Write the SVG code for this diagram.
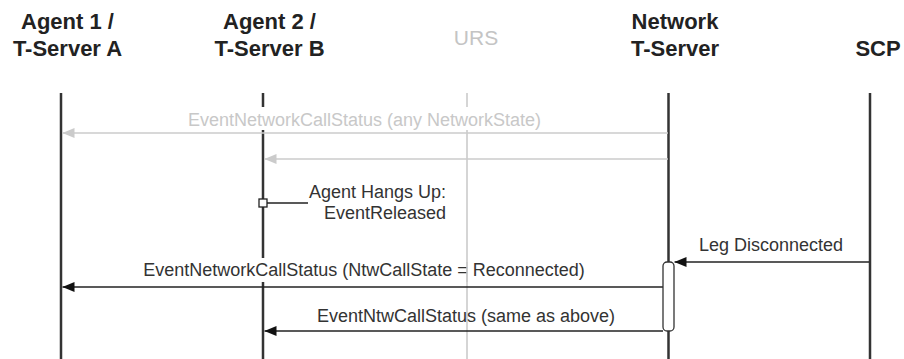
<svg xmlns="http://www.w3.org/2000/svg" width="904" height="359" viewBox="0 0 904 359">
<style>
.hdr{font-family:"Liberation Sans",Arial,sans-serif;font-size:22px;font-weight:bold;fill:#222;text-anchor:middle}
.hdrg{font-family:"Liberation Sans",Arial,sans-serif;font-size:21px;fill:#c4c4c4;text-anchor:middle}
.lbl{font-family:"Liberation Sans",Arial,sans-serif;font-size:18px;fill:#333}
.lblg{font-family:"Liberation Sans",Arial,sans-serif;font-size:18px;fill:#c8c8c8}
.life{stroke:#333;stroke-width:2.5;fill:none}
.lifeg{stroke:#c8c8c8;stroke-width:1.5;fill:none}
.msg{stroke:#222;stroke-width:1.5;fill:none;marker-end:url(#ah)}
.msgg{stroke:#cbcbcb;stroke-width:1.5;fill:none;marker-end:url(#ahg)}
</style>
<defs>
<marker id="ah" markerUnits="userSpaceOnUse" markerWidth="12" markerHeight="12" viewBox="0 0 12 12" refX="12" refY="6" orient="auto">
<path d="M0,1 L12,6 L0,11 Z" fill="#111"/>
</marker>
<marker id="ahg" markerUnits="userSpaceOnUse" markerWidth="12" markerHeight="12" viewBox="0 0 12 12" refX="12" refY="6" orient="auto">
<path d="M0,1 L12,6 L0,11 Z" fill="#cbcbcb"/>
</marker>
</defs>
<rect width="904" height="359" fill="#fff"/>
<g id="agent1">
<text class="hdr" x="67.5" y="29">Agent 1 /</text>
<text class="hdr" x="67.5" y="56">T-Server A</text>
<line class="life" x1="61" y1="93" x2="61" y2="359"/>
</g>
<g id="agent2">
<text class="hdr" x="269.5" y="29">Agent 2 /</text>
<text class="hdr" x="269.5" y="56">T-Server B</text>
<path class="life" d="M263,93 V107 M263,130 V258 M263,282 V359"/>
</g>
<g id="urs">
<text class="hdrg" x="476" y="45">URS</text>
<path class="lifeg" d="M467,93 V107 M467,130 V359"/>
</g>
<g id="network">
<text class="hdr" x="675" y="29">Network</text>
<text class="hdr" x="675" y="56">T-Server</text>
<line class="life" x1="668.5" y1="93" x2="668.5" y2="359"/>
</g>
<g id="scp">
<text class="hdr" x="878" y="56">SCP</text>
<line class="life" x1="870" y1="93" x2="870" y2="359"/>
</g>
<g id="connectors">
<line class="msgg" x1="668" y1="133" x2="62.5" y2="133"/>
<text class="lblg" x="364.5" y="126" text-anchor="middle">EventNetworkCallStatus (any NetworkState)</text>
<line class="msgg" x1="668" y1="159" x2="264.5" y2="159"/>
<line x1="267" y1="203" x2="308" y2="203" stroke="#222" stroke-width="1.5"/>
<rect x="259" y="199" width="8" height="8" fill="#fff" stroke="#222" stroke-width="1.3"/>
<text class="lbl" x="446" y="198" text-anchor="end">Agent Hangs Up:</text>
<text class="lbl" x="446" y="219" text-anchor="end">EventReleased</text>
<line class="msg" x1="869" y1="262" x2="674.5" y2="262"/>
<text class="lbl" x="771" y="251" text-anchor="middle">Leg Disconnected</text>
<line class="msg" x1="663" y1="287" x2="62.5" y2="287"/>
<text class="lbl" x="364" y="276" text-anchor="middle">EventNetworkCallStatus (NtwCallState = Reconnected)</text>
<line class="msg" x1="663" y1="331" x2="264.5" y2="331"/>
<text class="lbl" x="466" y="322" text-anchor="middle">EventNtwCallStatus (same as above)</text>
<line x1="467" y1="262" x2="467" y2="282" stroke="#c8c8c8" stroke-width="1.5"/>
</g>
<g id="activation">
<rect x="663" y="262" width="11" height="69" rx="4" fill="#fff" stroke="#333" stroke-width="1.3"/>
</g>
</svg>
